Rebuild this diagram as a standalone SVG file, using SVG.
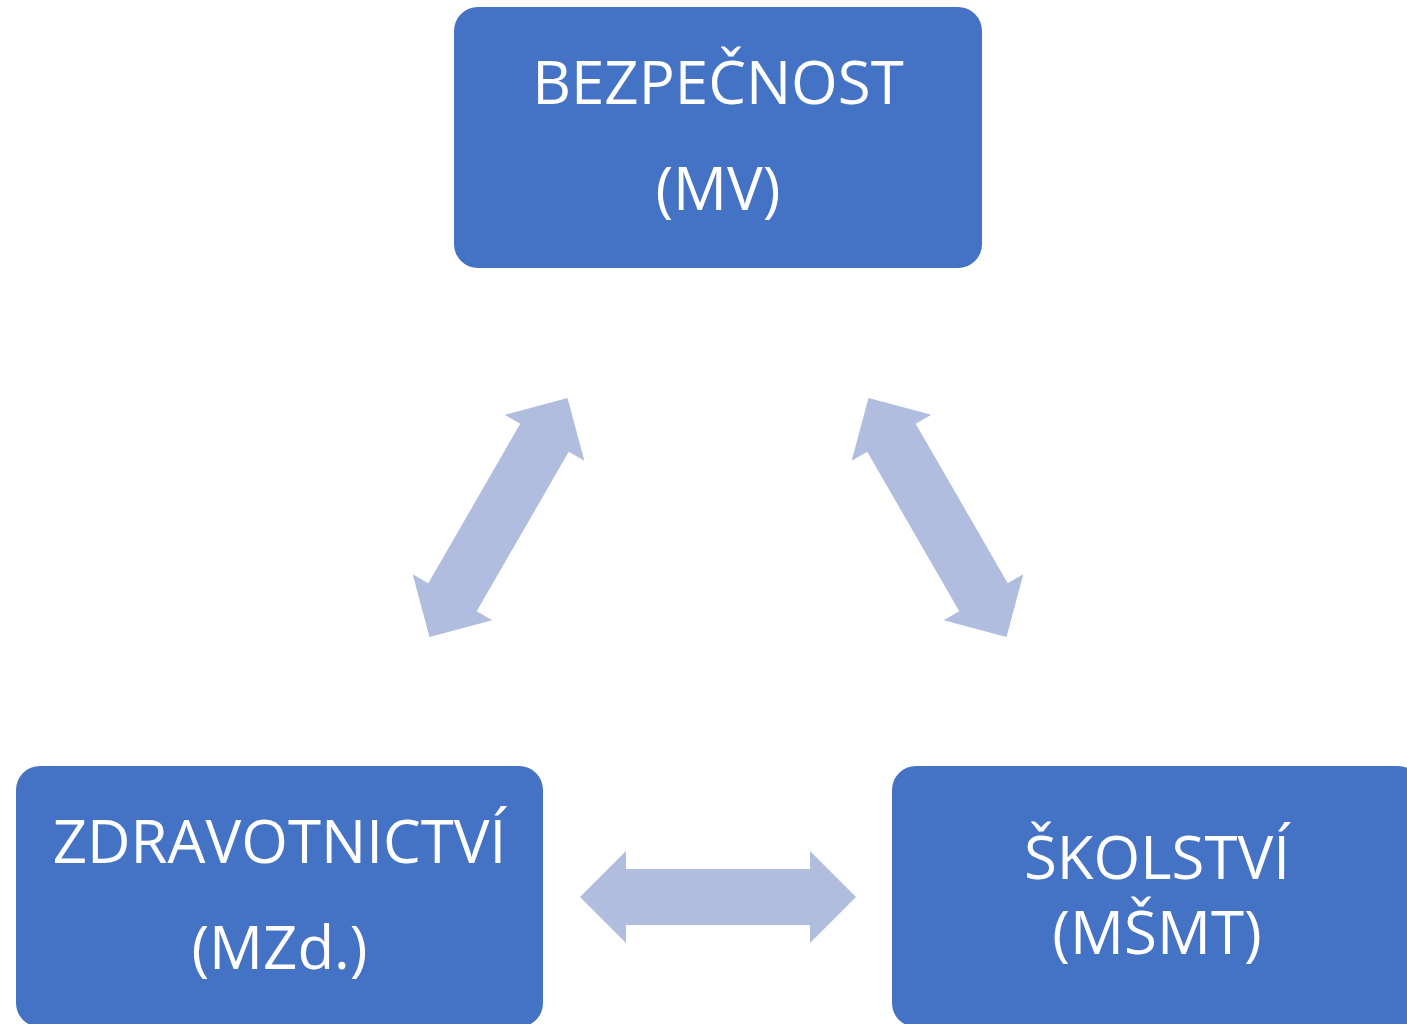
<svg xmlns="http://www.w3.org/2000/svg" width="1407" height="1024" viewBox="0 0 1407 1024">
  <style>
    .box { fill: #4472C4; }
    .lbl { fill: #FFFFFF; font-family: "Open Sans", "Noto Sans", "Liberation Sans", sans-serif; font-size: 60px; text-anchor: middle; }
    .arr { fill: #B0BDDF; }
  </style>
  <defs>
    <path id="dbl" d="M -138 0 L -92 -46 L -92 -28 L 92 -28 L 92 -46 L 138 0 L 92 46 L 92 28 L -92 28 L -92 46 Z"/>
  </defs>
  <rect width="1407" height="1024" fill="#FFFFFF"/>
  <g id="connectors">
    <use href="#dbl" class="arr" transform="translate(498.5 517.5) rotate(-60)"/>
    <use href="#dbl" class="arr" transform="translate(937.5 517.5) rotate(60)"/>
    <use href="#dbl" class="arr" transform="translate(718 897)"/>
  </g>
  <g id="node-bezpecnost">
    <rect class="box" x="454" y="7" width="528" height="261" rx="24" ry="24"/>
    <text class="lbl" x="718" y="104">BEZPEČNOST</text>
    <text class="lbl" x="718" y="210">(MV)</text>
  </g>
  <g id="node-zdravotnictvi">
    <rect class="box" x="16" y="766" width="527" height="261" rx="24" ry="24"/>
    <text class="lbl" x="279.5" y="863">ZDRAVOTNICTVÍ</text>
    <text class="lbl" x="279.5" y="969">(MZd.)</text>
  </g>
  <g id="node-skolstvi">
    <rect class="box" x="892" y="766" width="530" height="261" rx="24" ry="24"/>
    <text class="lbl" x="1157" y="879">ŠKOLSTVÍ</text>
    <text class="lbl" x="1157" y="954">(MŠMT)</text>
  </g>
</svg>
